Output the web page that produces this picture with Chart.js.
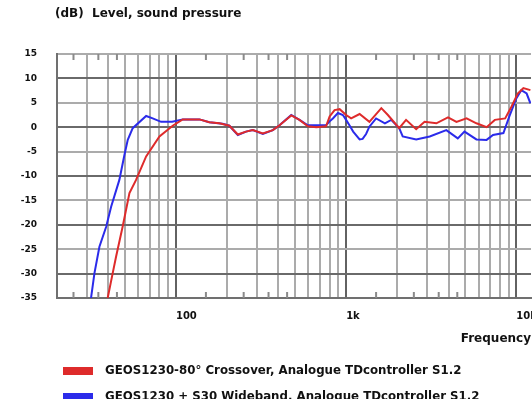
<!DOCTYPE html>
<html>
<head>
<meta charset="utf-8">
<script src="https://cdn.jsdelivr.net/npm/chart.js@4"></script>
<style>
html, body { margin: 0; padding: 0; background: #fff; overflow: hidden; }
</style>
</head>
<body>
<canvas id="chart" width="532" height="399"></canvas>
<script>
const seriesLabels = [
    'GEOS1230-80° Crossover, Analogue TDcontroller S1.2',
    'GEOS1230 + S30 Wideband, Analogue TDcontroller S1.2'
];
const seriesColors = ['#de2b2b', '#2b2bea'];

const freqRed = [39.7, 42.5, 44.5, 48.6, 53.3, 58.3, 66.8, 80, 95.7, 109.6, 137.5, 157, 180, 206, 231, 258, 283, 324, 371, 406, 476, 532, 596, 668, 762, 800, 855, 916, 1000, 1070, 1200, 1370, 1610, 1760, 2050, 2250, 2580, 2890, 3390, 3970, 4450, 5100, 5830, 6690, 7480, 8600, 9360, 10200, 11000, 12100];
const dbRed = [-35, -29.9, -26.5, -20.4, -13.5, -10.8, -6.0, -1.9, 0.3, 1.6, 1.6, 1.0, 0.8, 0.3, -1.5, -0.9, -0.6, -1.3, -0.6, 0.4, 2.4, 1.5, 0.2, 0.0, 0.2, 2.2, 3.5, 3.7, 2.5, 1.8, 2.7, 1.1, 3.9, 2.5, -0.2, 1.5, -0.4, 1.1, 0.8, 2.0, 1.1, 1.8, 0.8, 0.0, 1.5, 1.8, 4.2, 6.9, 8.0, 7.6];

const freqBlue = [31.7, 33.2, 35.5, 38.9, 41.6, 46.5, 49.8, 52.1, 55.7, 66.8, 73, 81.8, 95, 109.6, 137.5, 157, 188, 206, 231, 258, 283, 324, 371, 406, 476, 532, 596, 668, 762, 800, 836, 895, 957, 1000, 1050, 1100, 1200, 1250, 1310, 1370, 1500, 1690, 1840, 2050, 2150, 2580, 3100, 3880, 4530, 4960, 5830, 6690, 7300, 8400, 9100, 10000, 10700, 11500, 12100];
const dbBlue = [-35, -29.9, -24.5, -20.4, -16.3, -10.8, -5.7, -2.6, -0.2, 2.3, 1.8, 1.1, 1.1, 1.6, 1.6, 1.0, 0.7, 0.3, -1.6, -0.9, -0.6, -1.4, -0.6, 0.4, 2.5, 1.5, 0.4, 0.4, 0.4, 1.2, 1.8, 2.9, 2.5, 1.5, 0.3, -0.9, -2.5, -2.4, -1.4, 0.1, 1.8, 0.8, 1.5, -0.2, -1.9, -2.5, -1.9, -0.6, -2.3, -0.9, -2.5, -2.6, -1.6, -1.2, 2.2, 5.9, 7.6, 6.9, 4.9];

const yTicks = [15, 10, 5, 0, -5, -10, -15, -20, -25, -30, -35];
const freqMin = 20;
const freqMax = 12200;
const majorFreqs = [100, 1000, 10000];
const minorFreqs = [20, 30, 40, 50, 60, 70, 80, 90, 200, 300, 400, 500, 600, 700, 800, 900, 2000, 3000, 4000, 5000, 6000, 7000, 8000, 9000];
const halfFreqs = [25, 35, 45, 150, 250, 350, 450, 1500, 2500, 3500, 4500];
const xLabels = { 100: '100', 1000: '1k', 10000: '10k' };

const FONT = '"DejaVu Sans", sans-serif';

//Short tick marks at the top and bottom of the plot
const halfTicks = {
    id: 'halfTicks',
    beforeDatasetsDraw(chart) {
        const c = chart.ctx;
        const area = chart.chartArea;
        const x = chart.scales.x;
        c.save();
        c.strokeStyle = '#8a8a8a';
        c.lineWidth = 2;
        halfFreqs.forEach(f => {
            const px = x.getPixelForValue(f);
            c.beginPath();
            c.moveTo(px, area.top);
            c.lineTo(px, area.top + 6);
            c.moveTo(px, area.bottom);
            c.lineTo(px, area.bottom - 6);
            c.stroke();
        });
        c.restore();
    }
};

//Header and legend rows
const texts = {
    id: 'texts',
    afterDraw(chart) {
        const c = chart.ctx;
        c.save();
        c.textBaseline = 'middle';
        c.fillStyle = '#111';
        c.font = 'bold 12px ' + FONT;
        c.fillText('(dB)  Level, sound pressure', 55, 14);
        chart.data.datasets.forEach((ds, i) => {
            const y = 371 + 26 * i;
            c.fillStyle = ds.borderColor;
            c.fillRect(63, y - 4, 30, 8);
            c.fillStyle = '#111';
            c.font = 'bold 11.8px ' + FONT;
            c.fillText(ds.label, 105, y);
        });
        c.restore();
    }
};

function toPoints(xs, ys) {
    return xs.map((f, i) => ({ x: f, y: ys[i] }));
}

new Chart(document.getElementById('chart'), {
    type: 'line',
    data: {
        datasets: [{
            label: seriesLabels[0],
            data: toPoints(freqRed, dbRed),
            borderColor: seriesColors[0],
            borderWidth: 2,
            pointRadius: 0,
            tension: 0
        }, {
            label: seriesLabels[1],
            data: toPoints(freqBlue, dbBlue),
            borderColor: seriesColors[1],
            borderWidth: 2,
            pointRadius: 0,
            tension: 0
        }]
    },
    options: {
        responsive: false,
        animation: false,
        layout: { autoPadding: false, padding: { top: 54, right: 1, bottom: 0, left: 0 } },
        plugins: { legend: { display: false }, tooltip: { enabled: false } },
        scales: {
            x: {
                type: 'logarithmic',
                min: freqMin,
                max: freqMax,
                afterBuildTicks: s => {
                    const vals = minorFreqs.concat(majorFreqs, halfFreqs, [freqMax]).sort((a, b) => a - b);
                    s.ticks = vals.map(v => ({ value: v }));
                },
                afterFit: s => {
                    s.height = 101;
                    s.paddingLeft = 0;
                    s.paddingRight = 0;
                },
                ticks: {
                    autoSkip: false,
                    maxRotation: 0,
                    align: 'start',
                    padding: 12,
                    color: '#111',
                    font: { family: FONT, size: 10, weight: 'bold' },
                    callback: v => xLabels[v] || ''
                },
                grid: {
                    drawTicks: false,
                    lineWidth: 2,
                    color: ctx => {
                        const v = ctx.tick ? ctx.tick.value : 0;
                        if (halfFreqs.includes(v) || v === freqMax) return 'rgba(0,0,0,0)';
                        if (majorFreqs.includes(v) || v === freqMin) return '#626262';
                        return '#ababab';
                    }
                },
                border: { color: '#707070', width: 2 },
                title: {
                    display: true,
                    text: 'Frequency',
                    align: 'end',
                    color: '#111',
                    font: { family: FONT, size: 12, weight: 'bold' },
                    padding: { top: 0, bottom: 53 }
                }
            },
            y: {
                min: -35,
                max: 15,
                afterBuildTicks: s => {
                    s.ticks = yTicks.map(v => ({ value: v }));
                },
                afterFit: s => { s.width = 57; },
                ticks: {
                    padding: 20,
                    color: '#111',
                    font: { family: FONT, size: 9, weight: 'bold' }
                },
                grid: {
                    drawTicks: false,
                    lineWidth: 2,
                    color: ctx => (ctx.tick && ctx.tick.value % 10 === 0) ? '#6a6a6a' : '#ababab'
                },
                border: { color: '#707070', width: 2 }
            }
        }
    },
    plugins: [halfTicks, texts]
});
</script>
</body>
</html>
